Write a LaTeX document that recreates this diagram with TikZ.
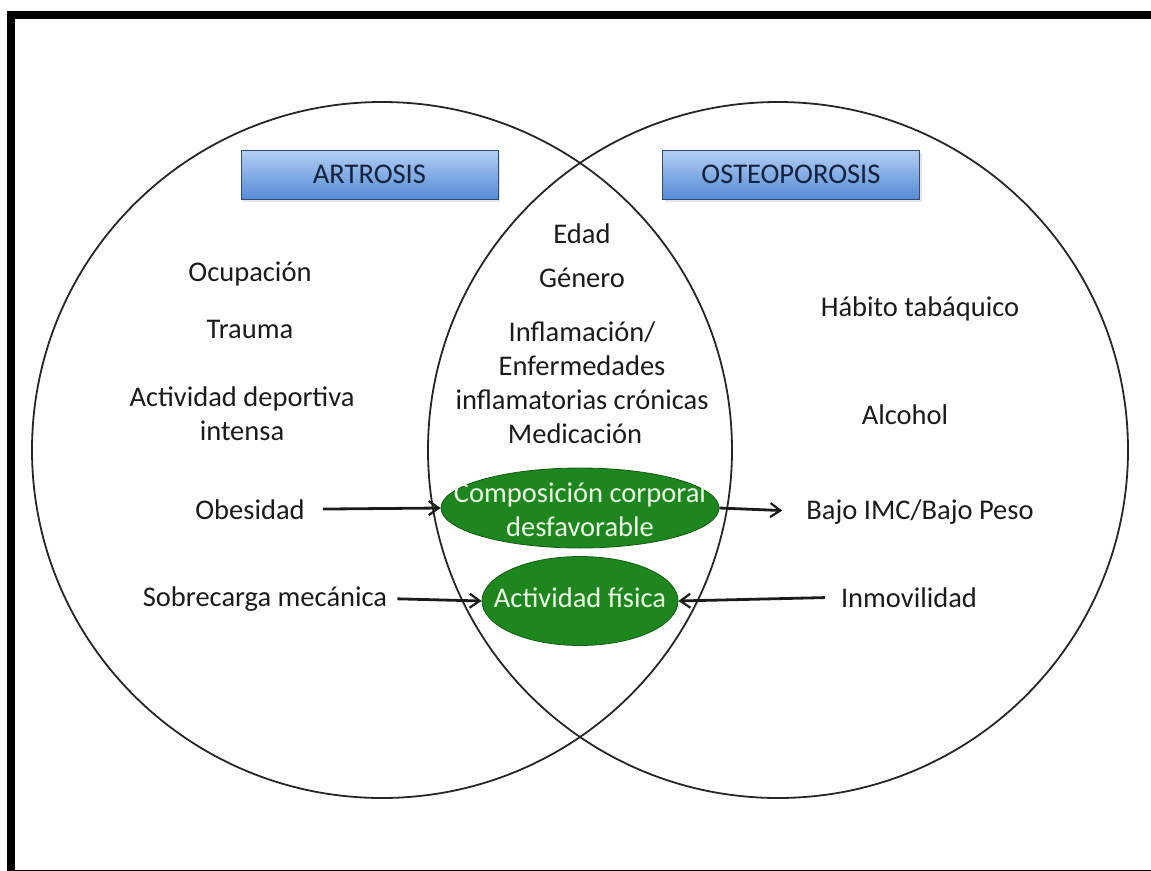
\documentclass[tikz,border=0pt]{standalone}
\usepackage{fontspec}
\setmainfont{Carlito}
\usetikzlibrary{shapes.geometric,arrows.meta,shadows}
\definecolor{ink}{HTML}{1B1B1B}
\definecolor{boxtop}{HTML}{B3CFF5}
\definecolor{boxbot}{HTML}{558BD4}
\definecolor{boxline}{HTML}{2E4C72}
\definecolor{boxtext}{HTML}{13233D}
\definecolor{leaf}{HTML}{1E861E}
\definecolor{leafline}{HTML}{145A14}
\definecolor{leaftext}{HTML}{EEF8E6}
\begin{document}
\begin{tikzpicture}[x=1pt,y=-1pt,
  every node/.style={font=\fontsize{28.5}{34}\selectfont},
  factor/.style={text=ink,inner sep=0pt,align=center},
  header/.style={draw=boxline,line width=1pt,top color=boxtop,bottom color=boxbot,
    text=boxtext,minimum width=257pt,minimum height=49pt,inner sep=0pt,
    drop shadow={shadow xshift=2pt,shadow yshift=-3pt,opacity=0.2}},
  shared/.style={ellipse,draw=leafline,line width=0.8pt,fill=leaf,inner sep=0pt},
  link/.style={line width=2.8pt,draw=ink,-{Straight Barb[length=10pt,width=14pt,line width=2.2pt]}}]

\useasboundingbox (0,0) rectangle (1151,870);

% outer frame
\begin{scope}
  \clip (0,0) rectangle (1151,870);
  \draw[line width=8pt] (11,15) rectangle (1155,874);
\end{scope}

% the two sets
\draw[line width=1.8pt,draw=black!85] (382,450) ellipse [x radius=350, y radius=348];
\draw[line width=1.8pt,draw=black!85] (778,450) ellipse [x radius=350, y radius=348];

% set titles
\node[header] (artr) at (369.5,174.5) {ARTROSIS};
\node[header] (osteo) at (791,174.5) {OSTEOPOROSIS};

% factors of osteoarthritis only
\node[factor,anchor=base] (ocup) at (250,281) {Ocupación};
\node[factor,anchor=base] (trauma) at (250,338) {Trauma};
\node[factor] (deporte) at (242,414) {Actividad deportiva\\intensa};
\node[factor,anchor=base] (obes) at (250,519) {Obesidad};
\node[factor,anchor=base] (sobre) at (265,606) {Sobrecarga mecánica};

% shared factors
\node[factor,anchor=base] (edad) at (582,243) {Edad};
\node[factor,anchor=base] (genero) at (582,287) {Género};
\node[factor] (infl) at (582,366) {Inflamación/\\Enfermedades\\inflamatorias crónicas};
\node[factor,anchor=base] (medic) at (575,443) {Medicación};

% shared factors highlighted
\node[shared,minimum width=278pt,minimum height=80pt] (comp) at (580,508) {};
\node[text=leaftext,align=center,inner sep=0pt] (comptxt) at (580,510) {Composición corporal\\desfavorable};
\node[shared,minimum width=196pt,minimum height=89pt] (fis) at (580,601) {};
\node[text=leaftext,inner sep=0pt,anchor=base] (fistxt) at (580,607) {Actividad física};

% factors of osteoporosis only
\node[factor,anchor=base] (tabaco) at (920,316) {Hábito tabáquico};
\node[factor,anchor=base] (alcohol) at (905,424) {Alcohol};
\node[factor,anchor=base] (imc) at (920,519) {Bajo IMC/Bajo Peso};
\node[factor,anchor=base] (inmov) at (909,607) {Inmovilidad};

% influences
\draw[link,shorten <=18pt] (obes.east) -- (comp.west);
\draw[link,shorten >=24pt] (comp.east) -- (imc.west);
\draw[link,shorten <=10pt] (sobre.east) -- (fis.west);
\draw[link,shorten <=16pt] (inmov.west) -- (fis.east);
\end{tikzpicture}
\end{document}
